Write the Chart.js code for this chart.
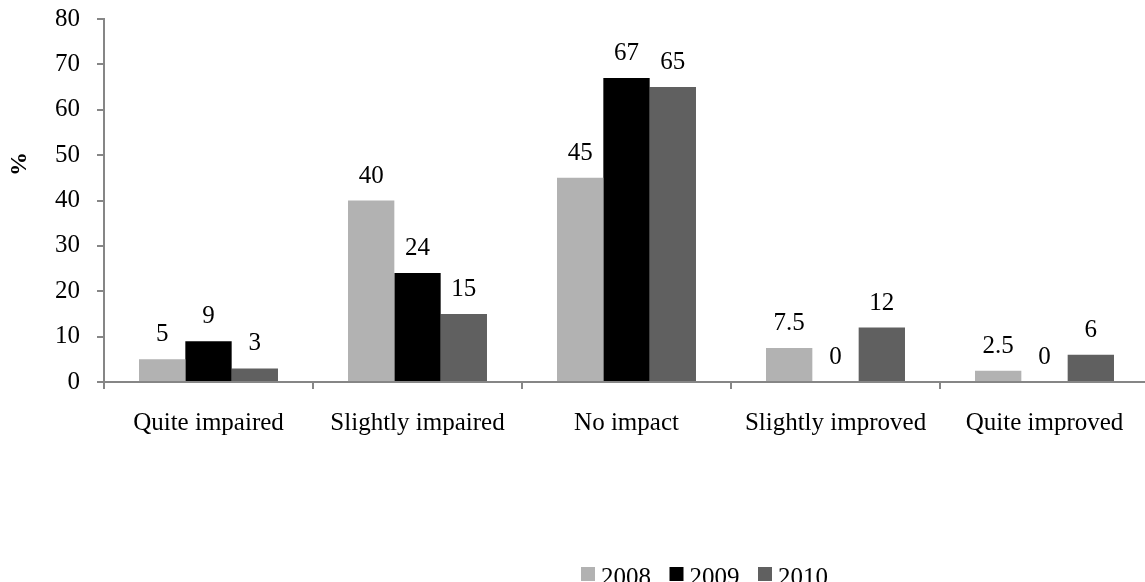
<!DOCTYPE html>
<html>
<head>
<meta charset="utf-8">
<script src="https://cdn.jsdelivr.net/npm/chart.js@4/dist/chart.umd.min.js"></script>
<style>
  html, body { margin: 0; padding: 0; background: #fff; overflow: hidden; }
  #wrap { width: 1145px; height: 582px; overflow: hidden; position: relative; }
  #box { width: 1150px; height: 582px; position: absolute; left: 0; top: 0; }
</style>
</head>
<body>
<div id="wrap"><div id="box"><canvas id="chart"></canvas></div></div>
<script>
const categories = ['Quite impaired', 'Slightly impaired', 'No impact', 'Slightly improved', 'Quite improved'];
const years = ['2008', '2009', '2010'];
const values2008 = [5, 40, 45, 7.5, 2.5];
const values2009 = [9, 24, 67, 0, 0];
const values2010 = [3, 15, 65, 12, 6];
const yTicks = [0, 10, 20, 30, 40, 50, 60, 70, 80];

const FONT = '"Liberation Serif", "Times New Roman", serif';
const AXIS = '#868686';

// labels above bars + the % title + legend at the bottom
const extras = {
  id: 'extras',
  afterDatasetsDraw(chart) {
    const ctx = chart.ctx;
    ctx.save();
    ctx.fillStyle = '#000';
    ctx.font = '25px ' + FONT;
    ctx.textAlign = 'center';
    ctx.textBaseline = 'alphabetic';
    chart.data.datasets.forEach((ds, i) => {
      chart.getDatasetMeta(i).data.forEach((bar, j) => {
        ctx.fillText(String(ds.data[j]), bar.x, bar.y - 18);
      });
    });

    // axis title
    ctx.save();
    ctx.translate(20, 164);
    ctx.rotate(-Math.PI / 2);
    ctx.font = 'bold 24px ' + FONT;
    ctx.textBaseline = 'middle';
    ctx.fillText('%', 0, 0);
    ctx.restore();

    // legend
    let x = 581;
    ctx.font = '25px ' + FONT;
    ctx.textAlign = 'left';
    chart.data.datasets.forEach(ds => {
      ctx.fillStyle = ds.backgroundColor;
      ctx.fillRect(x, 567, 14, 14);
      ctx.fillStyle = '#000';
      ctx.fillText(ds.label, x + 20, 585);
      x += 88.5;
    });
    ctx.restore();
  }
};

new Chart(document.getElementById('chart'), {
  type: 'bar',
  data: {
    labels: categories,
    datasets: [
      { label: years[0], data: values2008, backgroundColor: '#b2b2b2' },
      { label: years[1], data: values2009, backgroundColor: '#000000' },
      { label: years[2], data: values2010, backgroundColor: '#606060' },
    ],
  },
  options: {
    responsive: true,
    maintainAspectRatio: false,
    animation: false,
    datasets: {
      bar: { categoryPercentage: 0.665, barPercentage: 1.0 },
    },
    layout: { padding: { top: 19, right: 1, left: 0, bottom: 0 } },
    plugins: {
      legend: { display: false },
      tooltip: { enabled: false },
    },
    scales: {
      x: {
        afterFit: s => { s.height = 200; s.paddingLeft = 0; s.paddingRight = 0; },
        border: { color: AXIS, width: 2 },
        grid: { drawOnChartArea: false, drawTicks: true, tickLength: 7, color: AXIS, lineWidth: 2 },
        ticks: { color: '#000', font: { family: FONT, size: 25 }, padding: 19, maxRotation: 0 },
      },
      y: {
        min: 0,
        max: 80,
        afterFit: s => { s.width = 104; s.paddingTop = 0; s.paddingBottom = 0; },
        afterBuildTicks: s => { s.ticks = yTicks.map(v => ({ value: v })); },
        border: { color: AXIS, width: 2 },
        grid: { drawOnChartArea: false, drawTicks: true, tickLength: 7, color: AXIS, lineWidth: 2 },
        ticks: { color: '#000', font: { family: FONT, size: 25 }, padding: 17 },
      },
    },
  },
  plugins: [extras],
});
</script>
</body>
</html>
